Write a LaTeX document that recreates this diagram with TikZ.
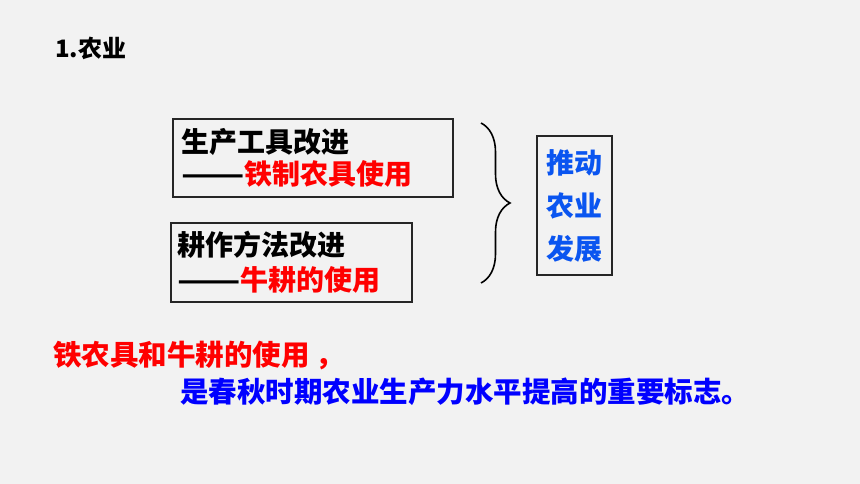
\documentclass[tikz,border=0pt]{standalone}
\usepackage{fontspec}
\setmainfont{Noto Sans CJK SC}
\usetikzlibrary{decorations.pathreplacing}
\definecolor{bgray}{HTML}{F2F2F2}
\definecolor{tred}{HTML}{FF0000}
\definecolor{tblue}{HTML}{0000FF}
\definecolor{sblue}{RGB}{10,85,240}
\newcommand{\longdash}{\scalebox{1.32}[1]{——}}
\begin{document}
\begin{tikzpicture}[x=1pt,y=-1pt,every node/.style={inner sep=0pt,font=\bfseries}]
\tikzset{
  tbox/.style={draw=black!85,line width=1.4pt,align=left,inner xsep=8pt,
    font=\fontsize{28}{32}\selectfont\bfseries},
  sbox/.style={draw=black!85,line width=1.4pt,align=center,text=sblue,
    font=\fontsize{28}{43}\selectfont\bfseries}
}
			%background
			\fill[bgray] (0,0) rectangle (860,484);
			\useasboundingbox (0,0) rectangle (860,484);

			%title
			\node [anchor=west,font=\fontsize{24}{28}\selectfont\bfseries] (title) at (55,48) {1.农业};

			%left boxes
			\node [tbox,minimum width=280,minimum height=78,text width=264] (tools) at (313,158)
				{生产工具改进\\\longdash{\color{tred}铁制农具使用}};
			\node [tbox,inner xsep=6pt,minimum width=241,minimum height=79,text width=229,
				font=\fontsize{28}{35}\selectfont\bfseries] (plough) at (291.5,262.5)
				{耕作方法改进\\\longdash{\color{tred}牛耕的使用}};

			%brace
			\coordinate (btop) at (481,123);
			\coordinate (bbot) at (481,283);
			\draw[line width=1.6pt,decorate,decoration={brace,amplitude=29pt}] (btop) -- (bbot);

			%right box
			\node [sbox,minimum width=75,minimum height=139] (result) at (574.5,205.5)
				{推动\\农业\\发展};

			%conclusion
			\node [anchor=west,text=tred,font=\fontsize{28.5}{32}\selectfont\bfseries] (sign1) at (53,355)
				{铁农具和牛耕的使用\hspace{6pt}，};
			\node [anchor=west,text=tblue,font=\fontsize{28.5}{32}\selectfont\bfseries] (sign2) at (180,392)
				{是春秋时期农业生产力水平提高的重要标志。};
\end{tikzpicture}
\end{document}
